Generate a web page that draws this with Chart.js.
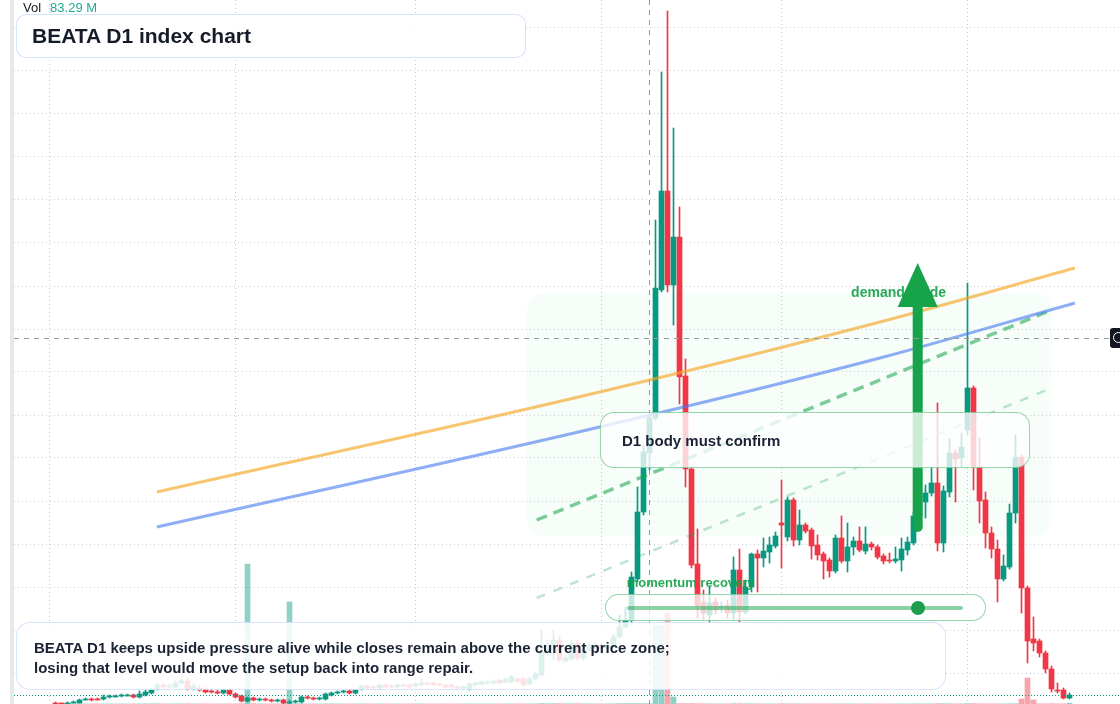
<!DOCTYPE html>
<html>
<head>
<meta charset="utf-8">
<script src="https://cdn.jsdelivr.net/npm/chart.js@4.4.1/dist/chart.umd.min.js"></script>
<style>
html, body { margin: 0; padding: 0; background: #fff; }
body { width: 1120px; height: 704px; position: relative; overflow: hidden; font-family: "Liberation Sans", Arial, sans-serif; }
#strip { position: absolute; left: 10px; top: 0; width: 4px; height: 704px; background: #e8e8e8; }
#wrap { position: absolute; left: 14px; top: 0; width: 1106px; height: 704px; }
#vol { position: absolute; left: 23px; top: 0; font-size: 13px; line-height: 16px; color: #131722; }
#vol span { color: #22ab94; margin-left: 9px; }
.box { position: absolute; box-sizing: border-box; }
#title { left: 16px; top: 14px; width: 510px; height: 44px; border: 1.5px solid rgba(59,130,246,0.22); border-radius: 10px;
  background: rgba(255,255,255,0.9); padding-left: 15px; font-weight: bold; font-size: 21px; line-height: 42px; color: #151b28; }
#note { left: 16px; top: 622px; width: 930px; height: 68px; border: 1.5px solid rgba(59,130,246,0.2); border-radius: 14px;
  background: rgba(255,255,255,0.86); padding: 15px 0 0 17px; font-weight: bold; font-size: 15px; line-height: 20px; color: #1a2233; }
#d1 { left: 600px; top: 412px; width: 430px; height: 56px; border: 1.5px solid rgba(22,163,74,0.45); border-radius: 14px;
  background: rgba(255,255,255,0.78); padding-left: 21px; font-weight: bold; font-size: 15px; line-height: 55px; color: #1a2233; }
#pill { left: 605px; top: 594px; width: 381px; height: 27px; border: 1.5px solid rgba(22,163,74,0.45); border-radius: 14px;
  background: rgba(255,255,255,0.76); }
#pillLine { left: 627px; top: 606px; width: 336px; height: 4px; border-radius: 2px; background: rgba(22,163,74,0.5); }
#pillDot { left: 911px; top: 601px; width: 14px; height: 14px; border-radius: 50%; background: #1f9d4f; }
#tag { left: 1110px; top: 328px; width: 14px; height: 20px; border-radius: 3px; background: #131722; }
#tag span { position: absolute; left: 3px; top: 4px; width: 9px; height: 9px; border: 1.5px solid #fff; border-radius: 50%; }
</style>
</head>
<body>
<div id="strip"></div>
<div id="wrap"><canvas id="chart" width="1106" height="704"></canvas></div>
<div id="vol">Vol<span id="volValue"></span></div>
<div class="box" id="title">BEATA D1 index chart</div>
<div class="box" id="d1">D1 body must confirm</div>
<div class="box" id="pill"></div>
<div class="box" id="pillLine"></div>
<div class="box" id="pillDot"></div>
<div class="box" id="note">BEATA D1 keeps upside pressure alive while closes remain above the current price zone;<br>losing that level would move the setup back into range repair.</div>
<div class="box" id="tag"><span></span></div>
<script>
// daily candles, oldest first
const open = [
  0.0013,0.0013,0.0012,0.0013,0.0013,0.0016,0.0017,0.0017,0.0017,0.0019,
  0.0019,0.0020,0.0020,0.0021,0.0019,0.0021,0.0023,0.0027,0.0031,0.0029,
  0.0029,0.0033,0.0035,0.0027,0.0028,0.0027,0.0025,0.0024,0.0023,0.0026,
  0.0022,0.0020,0.0015,0.0018,0.0016,0.0017,0.0016,0.0015,0.0016,0.0013,
  0.0014,0.0014,0.0019,0.0018,0.0017,0.0017,0.0021,0.0023,0.0024,0.0025,
  0.0023,0.0027,0.0030,0.0029,0.0028,0.0031,0.0030,0.0029,0.0031,0.0031,
  0.0030,0.0031,0.0033,0.0033,0.0032,0.0031,0.0031,0.0029,0.0028,0.0027,
  0.0031,0.0032,0.0033,0.0033,0.0036,0.0034,0.0034,0.0037,0.0037,0.0032,
  0.0037,0.0041,0.0064,0.0071,0.0076,0.0055,0.0057,0.0073,0.0058,0.0066,
  0.0068,0.0071,0.0068,0.0070,0.0079,0.0089,0.0096,0.0137,0.0204,0.0263,
  0.0298,0.0426,0.0525,0.0431,0.0479,0.0340,0.0247,0.0152,0.0114,0.0101,
  0.0114,0.0108,0.0111,0.0103,0.0146,0.0104,0.0129,0.0162,0.0158,0.0164,
  0.0170,0.0193,0.0179,0.0216,0.0176,0.0191,0.0186,0.0171,0.0162,0.0156,
  0.0145,0.0178,0.0155,0.0169,0.0175,0.0165,0.0172,0.0169,0.0160,0.0156,
  0.0155,0.0156,0.0166,0.0173,0.0200,0.0214,0.0223,0.0233,0.0173,0.0224,
  0.0263,0.0258,0.0286,0.0328,0.0249,0.0216,0.0183,0.0167,0.0137,0.0149,
  0.0203,0.0259,0.0128,0.0077,0.0075,0.0063,0.0047,0.0026,0.0026,0.0018
];
const high = [
  0.0014,0.0013,0.0014,0.0015,0.0017,0.0018,0.0018,0.0018,0.0021,0.0021,
  0.0021,0.0022,0.0022,0.0022,0.0025,0.0026,0.0028,0.0033,0.0033,0.0032,
  0.0035,0.0037,0.0038,0.0032,0.0030,0.0028,0.0026,0.0026,0.0027,0.0027,
  0.0023,0.0021,0.0019,0.0019,0.0018,0.0018,0.0017,0.0017,0.0017,0.0016,
  0.0016,0.0020,0.0020,0.0019,0.0019,0.0023,0.0024,0.0025,0.0026,0.0026,
  0.0027,0.0031,0.0031,0.0030,0.0032,0.0032,0.0031,0.0032,0.0032,0.0032,
  0.0033,0.0037,0.0034,0.0034,0.0033,0.0032,0.0032,0.0030,0.0030,0.0033,
  0.0034,0.0035,0.0035,0.0036,0.0037,0.0038,0.0041,0.0038,0.0039,0.0039,
  0.0044,0.0086,0.0076,0.0086,0.0080,0.0061,0.0076,0.0076,0.0069,0.0073,
  0.0073,0.0073,0.0072,0.0082,0.0101,0.0109,0.0144,0.0229,0.0271,0.0301,
  0.0496,0.0644,0.0705,0.0588,0.0509,0.0357,0.0248,0.0187,0.0126,0.0130,
  0.0118,0.0114,0.0116,0.0159,0.0167,0.0136,0.0163,0.0166,0.0178,0.0179,
  0.0184,0.0236,0.0219,0.0218,0.0206,0.0193,0.0188,0.0181,0.0164,0.0158,
  0.0181,0.0200,0.0193,0.0179,0.0189,0.0189,0.0174,0.0171,0.0162,0.0163,
  0.0169,0.0178,0.0179,0.0204,0.0218,0.0231,0.0249,0.0313,0.0230,0.0277,
  0.0266,0.0283,0.0433,0.0330,0.0278,0.0224,0.0189,0.0176,0.0161,0.0212,
  0.0281,0.0261,0.0130,0.0099,0.0077,0.0065,0.0050,0.0033,0.0028,0.0023
];
const low = [
  0.0012,0.0012,0.0012,0.0013,0.0013,0.0016,0.0015,0.0016,0.0016,0.0018,
  0.0019,0.0019,0.0020,0.0018,0.0018,0.0020,0.0022,0.0026,0.0028,0.0028,
  0.0028,0.0032,0.0026,0.0026,0.0025,0.0023,0.0023,0.0022,0.0022,0.0021,
  0.0018,0.0014,0.0014,0.0015,0.0015,0.0015,0.0014,0.0014,0.0012,0.0012,
  0.0013,0.0013,0.0017,0.0016,0.0016,0.0016,0.0020,0.0022,0.0023,0.0022,
  0.0022,0.0026,0.0027,0.0027,0.0027,0.0028,0.0028,0.0028,0.0029,0.0028,
  0.0029,0.0030,0.0031,0.0030,0.0030,0.0028,0.0028,0.0027,0.0027,0.0026,
  0.0030,0.0031,0.0032,0.0032,0.0032,0.0033,0.0033,0.0034,0.0030,0.0031,
  0.0036,0.0040,0.0061,0.0056,0.0054,0.0054,0.0056,0.0056,0.0056,0.0065,
  0.0066,0.0066,0.0066,0.0069,0.0078,0.0088,0.0092,0.0134,0.0201,0.0246,
  0.0296,0.0424,0.0424,0.0391,0.0312,0.0229,0.0148,0.0098,0.0096,0.0093,
  0.0102,0.0104,0.0098,0.0096,0.0094,0.0102,0.0124,0.0124,0.0149,0.0153,
  0.0168,0.0148,0.0175,0.0170,0.0171,0.0183,0.0157,0.0156,0.0137,0.0139,
  0.0143,0.0153,0.0144,0.0161,0.0164,0.0162,0.0166,0.0157,0.0152,0.0153,
  0.0153,0.0145,0.0161,0.0171,0.0196,0.0198,0.0220,0.0165,0.0164,0.0219,
  0.0214,0.0249,0.0281,0.0226,0.0193,0.0168,0.0158,0.0114,0.0135,0.0147,
  0.0193,0.0103,0.0053,0.0065,0.0059,0.0043,0.0024,0.0023,0.0017,0.0017
];
const close = [
  0.0012,0.0012,0.0013,0.0014,0.0016,0.0017,0.0016,0.0016,0.0019,0.0020,
  0.0020,0.0021,0.0021,0.0019,0.0022,0.0024,0.0026,0.0031,0.0029,0.0030,
  0.0033,0.0035,0.0027,0.0030,0.0026,0.0024,0.0024,0.0023,0.0026,0.0022,
  0.0019,0.0015,0.0018,0.0016,0.0017,0.0016,0.0015,0.0016,0.0013,0.0014,
  0.0015,0.0019,0.0018,0.0017,0.0018,0.0022,0.0023,0.0024,0.0025,0.0023,
  0.0026,0.0030,0.0028,0.0028,0.0031,0.0029,0.0029,0.0031,0.0030,0.0029,
  0.0032,0.0033,0.0032,0.0031,0.0031,0.0029,0.0029,0.0028,0.0029,0.0032,
  0.0033,0.0034,0.0034,0.0035,0.0033,0.0037,0.0039,0.0035,0.0031,0.0037,
  0.0042,0.0064,0.0071,0.0076,0.0056,0.0058,0.0073,0.0058,0.0066,0.0069,
  0.0071,0.0068,0.0070,0.0079,0.0089,0.0096,0.0139,0.0204,0.0264,0.0298,
  0.0428,0.0525,0.0431,0.0479,0.0339,0.0247,0.0151,0.0110,0.0103,0.0113,
  0.0106,0.0110,0.0103,0.0146,0.0104,0.0129,0.0162,0.0158,0.0165,0.0171,
  0.0180,0.0191,0.0216,0.0176,0.0191,0.0185,0.0170,0.0161,0.0155,0.0145,
  0.0178,0.0155,0.0169,0.0175,0.0166,0.0172,0.0169,0.0159,0.0155,0.0155,
  0.0157,0.0167,0.0174,0.0200,0.0214,0.0223,0.0233,0.0173,0.0225,0.0263,
  0.0257,0.0269,0.0328,0.0249,0.0215,0.0183,0.0167,0.0137,0.0150,0.0203,
  0.0259,0.0128,0.0075,0.0073,0.0063,0.0047,0.0027,0.0025,0.0018,0.0021
];
// volume in millions
const volume = [
  8,6,9,11,14,9,7,6,12,10,
  8,7,6,10,15,17,19,26,16,12,
  18,21,25,13,11,13,9,10,12,14,
  16,28,14000,35,15,11,9,8,13,10200,
  22,17,10,8,7,15,18,13,10,9,
  14,20,12,8,13,11,8,11,8,10,
  13,16,9,8,7,10,8,7,9,15,
  12,11,9,11,13,11,17,10,18,14,
  21,40,32,36,38,22,30,33,21,19,
  17,16,15,25,36,38,40,38,36,34,
  7900,7900,9100,700,38,36,40,34,26,20,
  18,14,16,30,32,22,26,18,16,14,
  15,28,24,26,18,12,16,14,13,14,
  20,18,16,11,12,13,9,11,10,8,
  9,12,11,18,17,16,20,38,30,26,
  18,16,36,34,24,20,14,22,14,24,
  32,500,2600,400,26,24,30,18,20,83.29
];

// grid levels (price) and month boundaries (candle index)
const priceGrid = [0.0043,0.0086,0.0129,0.0172,0.0215,0.0258,0.0301,0.0344,0.0387,0.0430,0.0473,0.0516,0.0559,0.0602,0.0645,0.0688];
const monthGrid = [-1, 30, 60, 91, 121, 152];

// drawings: [candle index, price]
const orangeCurve = [[16.9, 0.0224], [90.7, 0.0324], [137.4, 0.0394], [169.9, 0.0448]];
const blueCurve = [[16.9, 0.0189], [90.7, 0.0289], [137.4, 0.0358], [169.9, 0.0413]];
const greenDash = [[80.2, 0.0196], [165.2, 0.0404]];
const paleDash = [[80.2, 0.0118], [165.2, 0.0326]];
const zoneIdx = [78.6, 166.1];
const zonePrice = [0.0180, 0.0423];
const arrowIdx = 143.7;
const arrowPrice = [0.0189, 0.0453];
const demandLabel = [132.6, 0.0423];
const momentumLabel = [95.2, 0.0133];
const crossIdx = 99;
const crossPrice = 0.0378;

const UP = '#089981', DOWN = '#f23645';
const GRID = '#c9ccd1';
const isUp = open.map((o, i) => close[i] >= o);

document.getElementById('volValue').textContent = volume[volume.length - 1].toFixed(2) + ' M';

const toXY = pts => pts.map(p => ({x: p[0], y: p[1]}));

const overlay = {
  id: 'overlay',
  beforeDatasetsDraw(chart) {
    const {ctx, chartArea, scales: {x, y}} = chart;
    ctx.save();
    // month separators
    ctx.strokeStyle = GRID;
    ctx.lineWidth = 1;
    ctx.setLineDash([1, 3]);
    ctx.beginPath();
    monthGrid.forEach(v => {
      const px = Math.floor(x.getPixelForValue(v)) + 0.5;
      ctx.moveTo(px, chartArea.top);
      ctx.lineTo(px, chartArea.bottom);
    });
    ctx.stroke();
    ctx.setLineDash([]);

    const x0 = x.getPixelForValue(zoneIdx[0]), x1 = x.getPixelForValue(zoneIdx[1]);
    const y0 = y.getPixelForValue(zonePrice[1]), y1 = y.getPixelForValue(zonePrice[0]);
    ctx.fillStyle = 'rgba(34,197,94,0.035)';
    ctx.beginPath();
    ctx.roundRect(x0, y0, x1 - x0, y1 - y0, 16);
    ctx.fill();
    ctx.restore();
  },
  afterDatasetsDraw(chart) {
    const {ctx, chartArea, scales: {x, y}} = chart;
    ctx.save();
    // labels
    ctx.fillStyle = 'rgba(22,163,74,0.92)';
    ctx.textBaseline = 'middle';
    ctx.font = 'bold 14px "Liberation Sans", Arial, sans-serif';
    ctx.fillText('demand guide', x.getPixelForValue(demandLabel[0]), y.getPixelForValue(demandLabel[1]));
    ctx.font = 'bold 13px "Liberation Sans", Arial, sans-serif';
    ctx.fillText('momentum recovery', x.getPixelForValue(momentumLabel[0]), y.getPixelForValue(momentumLabel[1]));

    // arrow
    const ax = x.getPixelForValue(arrowIdx);
    const yb = y.getPixelForValue(arrowPrice[0]);
    const yt = y.getPixelForValue(arrowPrice[1]);
    ctx.strokeStyle = '#16a34a';
    ctx.fillStyle = '#16a34a';
    ctx.lineWidth = 10;
    ctx.lineCap = 'round';
    ctx.beginPath();
    ctx.moveTo(ax, yb);
    ctx.lineTo(ax, yt + 40);
    ctx.stroke();
    ctx.beginPath();
    ctx.moveTo(ax, yt);
    ctx.lineTo(ax + 20, yt + 44);
    ctx.lineTo(ax - 20, yt + 44);
    ctx.closePath();
    ctx.fill();

    // last price line
    const ly = Math.round(y.getPixelForValue(close[close.length - 1])) + 0.5;
    ctx.lineCap = 'butt';
    ctx.lineWidth = 1;
    ctx.strokeStyle = UP;
    ctx.setLineDash([1, 2]);
    ctx.beginPath();
    ctx.moveTo(chartArea.left, ly);
    ctx.lineTo(chartArea.right, ly);
    ctx.stroke();

    // crosshair
    const cx = Math.floor(x.getPixelForValue(crossIdx)) + 0.5;
    const cy = Math.round(y.getPixelForValue(crossPrice)) + 0.5;
    ctx.strokeStyle = '#9598a1';
    ctx.setLineDash([5, 5]);
    ctx.beginPath();
    ctx.moveTo(cx, chartArea.top);
    ctx.lineTo(cx, chartArea.bottom);
    ctx.moveTo(chartArea.left, cy);
    ctx.lineTo(chartArea.right, cy);
    ctx.stroke();
    ctx.restore();
  }
};

new Chart(document.getElementById('chart'), {
  type: 'bar',
  data: {
    datasets: [
      {
        type: 'line', data: toXY(orangeCurve), borderColor: 'rgba(245,166,35,0.65)', borderWidth: 3,
        pointRadius: 0, cubicInterpolationMode: 'monotone', order: 0
      },
      {
        type: 'line', data: toXY(blueCurve), borderColor: 'rgba(66,120,240,0.6)', borderWidth: 3,
        pointRadius: 0, cubicInterpolationMode: 'monotone', order: 0
      },
      {
        type: 'line', data: toXY(greenDash), borderColor: 'rgba(22,163,74,0.55)', borderWidth: 3.5,
        borderDash: [11, 7], pointRadius: 0, order: 0
      },
      {
        type: 'line', data: toXY(paleDash), borderColor: 'rgba(22,163,74,0.28)', borderWidth: 2.5,
        borderDash: [9, 9], pointRadius: 0, order: 0
      },
      {
        label: 'body',
        data: open.map((o, i) => ({x: i, y: [o, close[i]]})),
        backgroundColor: isUp.map(u => u ? UP : DOWN),
        barThickness: 5, minBarLength: 1, grouped: false, order: 1
      },
      {
        label: 'wick',
        data: low.map((l, i) => ({x: i, y: [l, high[i]]})),
        backgroundColor: isUp.map(u => u ? UP : DOWN),
        barThickness: 1, grouped: false, order: 2
      },
      {
        label: 'volume',
        data: volume.map((v, i) => ({x: i, y: v})),
        yAxisID: 'yVol',
        backgroundColor: isUp.map(u => u ? 'rgba(8,153,129,0.45)' : 'rgba(242,54,69,0.45)'),
        barThickness: 5, grouped: false, order: 3
      }
    ]
  },
  options: {
    responsive: false,
    animation: false,
    devicePixelRatio: 1,
    layout: { padding: 0 },
    plugins: { legend: { display: false }, tooltip: { enabled: false } },
    scales: {
      x: {
        type: 'linear', display: false, min: -6.9167, max: 177.4167, offset: false,
        ticks: { display: false },
        grid: { display: false, drawTicks: false },
        border: { display: false }
      },
      y: {
        type: 'linear', min: 0.0012, max: 0.0716,
        afterBuildTicks: s => { s.ticks = priceGrid.map(v => ({value: v})); },
        ticks: { display: false },
        grid: { color: GRID, drawTicks: false },
        border: { display: false, dash: [1, 3] }
      },
      yVol: {
        type: 'linear', display: false, min: 0, max: 70400
      }
    }
  },
  plugins: [overlay]
});
</script>
</body>
</html>
